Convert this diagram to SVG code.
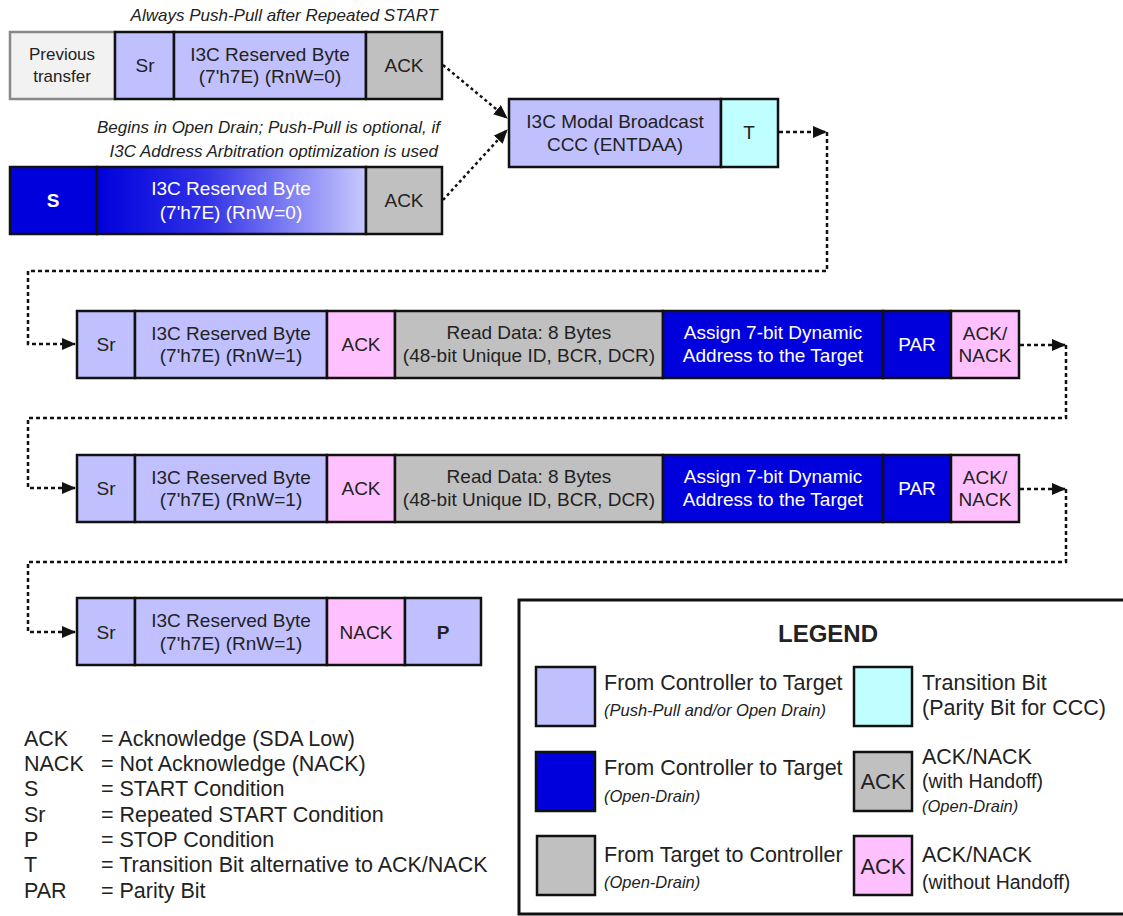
<svg xmlns="http://www.w3.org/2000/svg" width="1123" height="916" viewBox="0 0 1123 916">
<style>
text{font-family:"Liberation Sans",Arial,sans-serif;fill:#222;dominant-baseline:central;text-anchor:middle;}
.b{stroke:#111;stroke-width:2.5;}
.lp{fill:#C0C0FF;}
.db{fill:#0000DD;}
.gr{fill:#C0C0C0;}
.pk{fill:#FFC0FF;}
.cy{fill:#C0FFFF;}
.t17{font-size:19px;}
.t18{font-size:19px;}
.w{fill:#fff;}
.cap{font-size:17px;font-style:italic;text-anchor:end;}
.leg{font-size:21.5px;text-anchor:start;}
.legs{font-size:19.5px;text-anchor:start;}
.legi{font-size:16.5px;font-style:italic;text-anchor:start;}
.ab{font-size:21.5px;text-anchor:start;}
.con{fill:none;stroke:#111;stroke-width:2.5;stroke-dasharray:4 3;}
</style>
<defs>
<linearGradient id="g1" x1="0" y1="0" x2="1" y2="0">
<stop offset="0" stop-color="#0000DD"/>
<stop offset="0.4" stop-color="#3030E6"/>
<stop offset="1" stop-color="#C8C8FF"/>
</linearGradient>
<marker id="ah" markerWidth="14" markerHeight="12" refX="13" refY="6" orient="auto" markerUnits="userSpaceOnUse" viewBox="0 0 14 12">
<path d="M0,0 L14,6 L0,12 z" fill="#111"/>
</marker>
</defs>
<rect x="0" y="0" width="1123" height="916" fill="#fff"/>

<text class="cap" x="438" y="15">Always Push-Pull after Repeated START</text>
<text class="cap" x="440" y="127">Begins in Open Drain; Push-Pull is optional, if</text>
<text class="cap" x="438" y="151">I3C Address Arbitration optimization is used</text>

<g id="row1">
<rect x="10" y="32" width="105" height="67" fill="#F2F2F2" stroke="#888" stroke-width="2.5"/>
<text x="62" y="54" font-size="17">Previous</text>
<text x="62" y="76" font-size="17">transfer</text>
<rect class="b lp" x="115" y="32" width="59" height="67"/>
<text class="t18" x="145" y="65">Sr</text>
<rect class="b lp" x="174" y="32" width="192" height="67"/>
<text class="t17" x="270" y="54">I3C Reserved Byte</text>
<text class="t17" x="270" y="76">(7'h7E) (RnW=0)</text>
<rect class="b gr" x="366" y="32" width="76" height="67"/>
<text class="t18" x="404" y="65">ACK</text>
</g>

<g id="row2">
<rect class="b db" x="10" y="167" width="87" height="67"/>
<text class="t18 w" x="53" y="200" font-weight="bold">S</text>
<rect class="b" x="97" y="167" width="269" height="67" fill="url(#g1)"/>
<text class="t17 w" x="231" y="188">I3C Reserved Byte</text>
<text class="t17 w" x="231" y="212">(7'h7E) (RnW=0)</text>
<rect class="b gr" x="366" y="167" width="76" height="67"/>
<text class="t18" x="404" y="200">ACK</text>
</g>

<g id="modal">
<rect class="b lp" x="509" y="99" width="212" height="68"/>
<text class="t17" x="615" y="121">I3C Modal Broadcast</text>
<text class="t17" x="615" y="144">CCC (ENTDAA)</text>
<rect class="b cy" x="721" y="99" width="57" height="68"/>
<text class="t18" x="749" y="132">T</text>
</g>

<g id="row3">
<rect class="b lp" x="77" y="311" width="58" height="67"/>
<text class="t18" x="106" y="344">Sr</text>
<rect class="b lp" x="135" y="311" width="192" height="67"/>
<text class="t17" x="231" y="333">I3C Reserved Byte</text>
<text class="t17" x="231" y="355">(7'h7E) (RnW=1)</text>
<rect class="b pk" x="327" y="311" width="68" height="67"/>
<text class="t18" x="361" y="344">ACK</text>
<rect class="b gr" x="395" y="311" width="268" height="67"/>
<text class="t17" x="529" y="332">Read Data: 8 Bytes</text>
<text class="t17" x="529" y="355">(48-bit Unique ID, BCR, DCR)</text>
<rect class="b db" x="663" y="311" width="220" height="67"/>
<text class="t17 w" x="773" y="332">Assign 7-bit Dynamic</text>
<text class="t17 w" x="773" y="355">Address to the Target</text>
<rect class="b db" x="883" y="311" width="68" height="67"/>
<text class="t18 w" x="917" y="344">PAR</text>
<rect class="b pk" x="951" y="311" width="68" height="67"/>
<text class="t17" x="985" y="333">ACK/</text>
<text class="t17" x="985" y="355">NACK</text>
</g>

<g id="row4">
<rect class="b lp" x="77" y="455" width="58" height="67"/>
<text class="t18" x="106" y="488">Sr</text>
<rect class="b lp" x="135" y="455" width="192" height="67"/>
<text class="t17" x="231" y="477">I3C Reserved Byte</text>
<text class="t17" x="231" y="499">(7'h7E) (RnW=1)</text>
<rect class="b pk" x="327" y="455" width="68" height="67"/>
<text class="t18" x="361" y="488">ACK</text>
<rect class="b gr" x="395" y="455" width="268" height="67"/>
<text class="t17" x="529" y="476">Read Data: 8 Bytes</text>
<text class="t17" x="529" y="499">(48-bit Unique ID, BCR, DCR)</text>
<rect class="b db" x="663" y="455" width="220" height="67"/>
<text class="t17 w" x="773" y="476">Assign 7-bit Dynamic</text>
<text class="t17 w" x="773" y="499">Address to the Target</text>
<rect class="b db" x="883" y="455" width="68" height="67"/>
<text class="t18 w" x="917" y="488">PAR</text>
<rect class="b pk" x="951" y="455" width="68" height="67"/>
<text class="t17" x="985" y="477">ACK/</text>
<text class="t17" x="985" y="499">NACK</text>
</g>

<g id="row5">
<rect class="b lp" x="77" y="598" width="58" height="67"/>
<text class="t18" x="106" y="632">Sr</text>
<rect class="b lp" x="135" y="598" width="192" height="67"/>
<text class="t17" x="231" y="620">I3C Reserved Byte</text>
<text class="t17" x="231" y="643">(7'h7E) (RnW=1)</text>
<rect class="b pk" x="327" y="598" width="78" height="67"/>
<text class="t18" x="366" y="632">NACK</text>
<rect class="b lp" x="405" y="598" width="76" height="67"/>
<text class="t18" x="443" y="632" font-weight="bold">P</text>
</g>

<g id="connectors">
<path class="con" d="M443,65 L507,118" marker-end="url(#ah)" style="stroke-dasharray:3 3"/>
<path class="con" d="M443,200 L507,130" marker-end="url(#ah)" style="stroke-dasharray:3 3"/>
<path class="con" d="M779,132 L826,132" marker-end="url(#ah)"/>
<path class="con" d="M827,132 L827,271 L28,271 L28,344 L75,344" marker-end="url(#ah)"/>
<path class="con" d="M1020,345 L1065,345" marker-end="url(#ah)"/>
<path class="con" d="M1066,345 L1066,418 L28,418 L28,488 L75,488" marker-end="url(#ah)"/>
<path class="con" d="M1020,489 L1065,489" marker-end="url(#ah)"/>
<path class="con" d="M1066,489 L1066,562 L28,562 L28,632 L75,632" marker-end="url(#ah)"/>
</g>

<g id="legend">
<rect x="519" y="600" width="610" height="314" fill="#fff" stroke="#111" stroke-width="3"/>
<text x="828" y="633" font-size="24" font-weight="bold">LEGEND</text>
<rect class="b lp" x="536" y="667" width="59" height="59"/>
<text class="leg" x="604" y="683">From Controller to Target</text>
<text class="legi" x="604" y="710">(Push-Pull and/or Open Drain)</text>
<rect class="b db" x="536" y="752" width="59" height="59"/>
<text class="leg" x="604" y="768">From Controller to Target</text>
<text class="legi" x="604" y="796">(Open-Drain)</text>
<rect class="b gr" x="537" y="836" width="58" height="59"/>
<text class="leg" x="604" y="855">From Target to Controller</text>
<text class="legi" x="604" y="882">(Open-Drain)</text>
<rect class="b cy" x="854" y="667" width="58" height="59"/>
<text class="leg" x="922" y="683">Transition Bit</text>
<text class="leg" x="922" y="708">(Parity Bit for CCC)</text>
<rect class="b gr" x="854" y="752" width="58" height="59"/>
<text x="883" y="781" font-size="22">ACK</text>
<text class="leg" x="922" y="757">ACK/NACK</text>
<text class="legs" x="922" y="781">(with Handoff)</text>
<text class="legi" x="922" y="806">(Open-Drain)</text>
<rect class="b pk" x="854" y="836" width="58" height="59"/>
<text x="883" y="866" font-size="22">ACK</text>
<text class="leg" x="922" y="855">ACK/NACK</text>
<text class="legs" x="922" y="882">(without Handoff)</text>
</g>

<g id="abbrev">
<text class="ab" x="24" y="739">ACK</text><text class="ab" x="101" y="739">= Acknowledge (SDA Low)</text>
<text class="ab" x="24" y="764">NACK</text><text class="ab" x="101" y="764">= Not Acknowledge (NACK)</text>
<text class="ab" x="24" y="789">S</text><text class="ab" x="101" y="789">= START Condition</text>
<text class="ab" x="24" y="815">Sr</text><text class="ab" x="101" y="815">= Repeated START Condition</text>
<text class="ab" x="24" y="840">P</text><text class="ab" x="101" y="840">= STOP Condition</text>
<text class="ab" x="24" y="865">T</text><text class="ab" x="101" y="865">= Transition Bit alternative to ACK/NACK</text>
<text class="ab" x="24" y="891">PAR</text><text class="ab" x="101" y="891">= Parity Bit</text>
</g>
</svg>
